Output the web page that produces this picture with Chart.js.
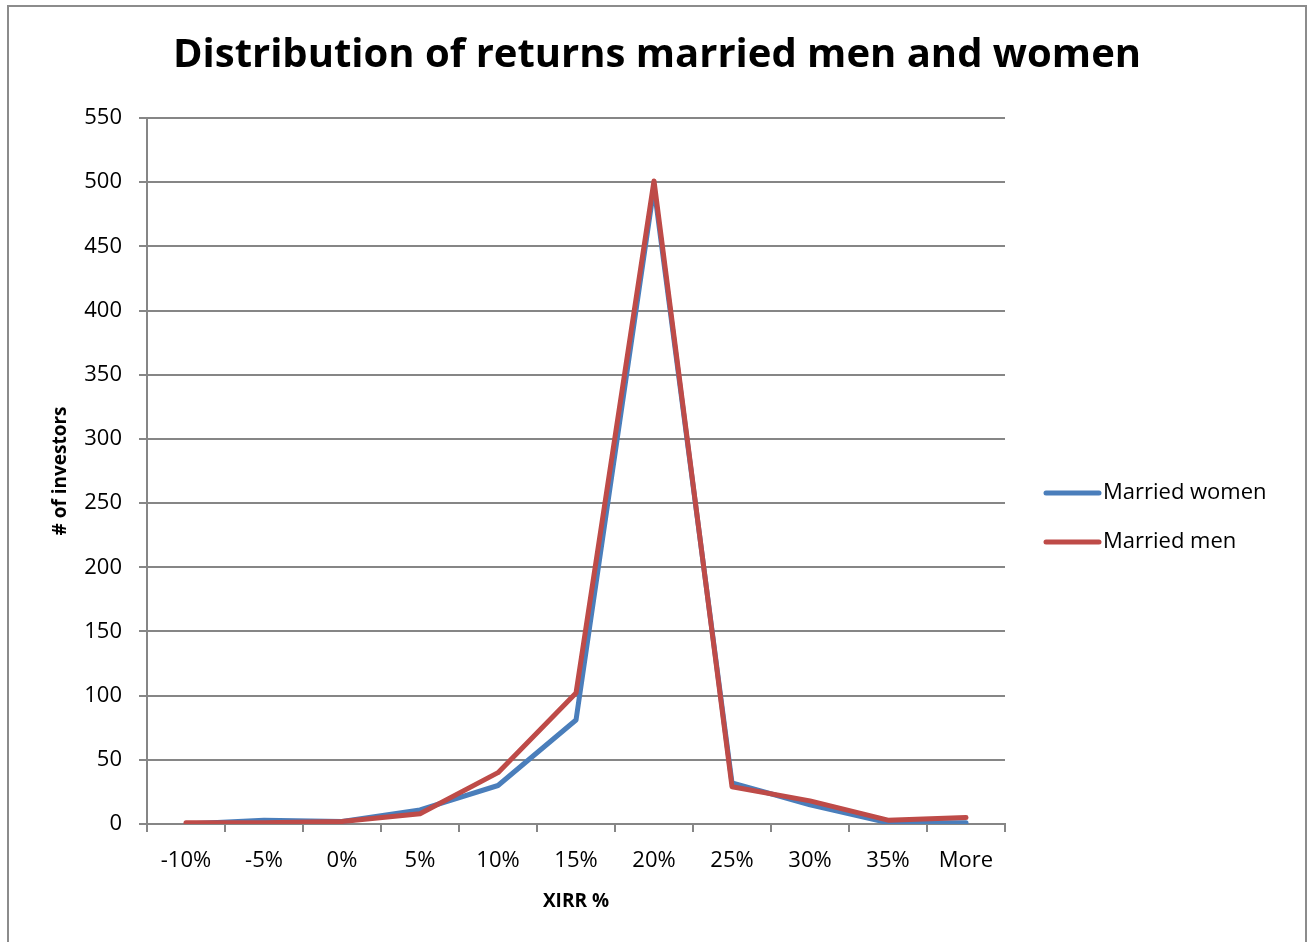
<!DOCTYPE html>
<html>
<head>
<meta charset="utf-8">
<script src="https://cdn.jsdelivr.net/npm/chart.js@4/dist/chart.umd.min.js"></script>
<style>
  body { margin: 0; background: #fff; overflow: hidden; }
  #frame { position: absolute; left: 7px; top: 5px; width: 1296px; height: 960px;
           border: 2px solid #8c8c8c; border-bottom: none; }
  #wrap { position: absolute; left: 0; top: 0; width: 1310px; height: 942px; }
</style>
</head>
<body>
<div id="frame"></div>
<div id="wrap"><canvas id="chart" width="1310" height="942"></canvas></div>
<script>
// data
var categories = ["-10%", "-5%", "0%", "5%", "10%", "15%", "20%", "25%", "30%", "35%", "More"];
var marriedWomen = [0, 3, 2, 11, 30, 81, 496, 32, 15, 1, 1];
var marriedMen = [1, 1, 2, 8, 40, 102, 501, 29, 18, 3, 5];
var chartTitle = "Distribution of returns married men and women";

var fontFamily = "'Open Sans', 'Liberation Sans', sans-serif";
var gray = "#868686";

// title and legend drawn by hand so they sit where Excel puts them
var overlay = {
    id: "overlay",
    afterDraw: function (chart) {
        var ctx = chart.ctx;
        ctx.save();
        ctx.fillStyle = "#000";
        ctx.textBaseline = "middle";
        ctx.textAlign = "center";
        ctx.font = "bold 40px " + fontFamily;
        ctx.fillText(chartTitle, 657, 56);

        var rows = [493, 542];
        ctx.font = "22px " + fontFamily;
        ctx.textAlign = "left";
        chart.data.datasets.forEach(function (ds, i) {
            var y = rows[i];
            ctx.strokeStyle = ds.borderColor;
            ctx.lineWidth = 5;
            ctx.lineCap = "round";
            ctx.beginPath();
            ctx.moveTo(1046, y);
            ctx.lineTo(1099, y);
            ctx.stroke();
            ctx.fillStyle = "#000";
            ctx.fillText(ds.label, 1103, y);
        });
        ctx.restore();
    }
};

new Chart(document.getElementById("chart"), {
    type: "line",
    data: {
        labels: categories,
        datasets: [
            {
                label: "Married women",
                data: marriedWomen,
                borderColor: "#4a7ebb",
                backgroundColor: "#4a7ebb",
                borderWidth: 5,
                borderJoinStyle: "round",
                borderCapStyle: "round",
                pointRadius: 0,
                tension: 0,
                order: 2
            },
            {
                label: "Married men",
                data: marriedMen,
                borderColor: "#be4b48",
                backgroundColor: "#be4b48",
                borderWidth: 5,
                borderJoinStyle: "round",
                borderCapStyle: "round",
                pointRadius: 0,
                tension: 0,
                order: 1
            }
        ]
    },
    options: {
        responsive: false,
        animation: false,
        layout: {
            padding: { left: 0, right: 305, top: 118, bottom: 0 }
        },
        plugins: {
            legend: { display: false },
            tooltip: { enabled: false },
            title: { display: false }
        },
        scales: {
            x: {
                offset: true,
                grid: {
                    offset: true,
                    drawOnChartArea: false,
                    color: gray,
                    lineWidth: 2,
                    tickLength: 8
                },
                border: { color: gray, width: 2 },
                ticks: {
                    color: "#000",
                    font: { family: fontFamily, size: 22 },
                    padding: 16,
                    maxRotation: 0,
                    autoSkip: false
                },
                title: {
                    display: true,
                    text: "XIRR %",
                    color: "#000",
                    font: { family: fontFamily, size: 19, weight: "bold" },
                    padding: { top: 0, bottom: 29 }
                },
                afterFit: function (scale) { scale.height = 118; }
            },
            y: {
                min: 0,
                max: 550,
                ticks: {
                    stepSize: 50,
                    color: "#000",
                    font: { family: fontFamily, size: 22 },
                    padding: 17
                },
                grid: {
                    color: gray,
                    lineWidth: 2,
                    tickLength: 8
                },
                border: { color: gray, width: 2 },
                title: {
                    display: true,
                    text: "# of investors",
                    color: "#000",
                    font: { family: fontFamily, size: 19, weight: "bold" },
                    padding: { top: 49, bottom: 0 }
                },
                afterFit: function (scale) { scale.width = 147; }
            }
        }
    },
    plugins: [overlay]
});
</script>
</body>
</html>
